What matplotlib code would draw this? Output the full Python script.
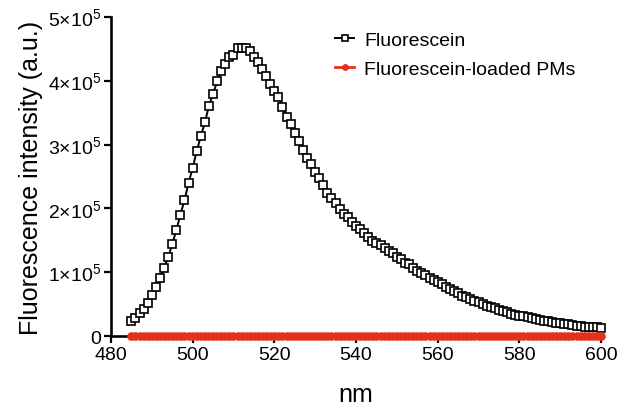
import numpy as np
import matplotlib.pyplot as plt
from matplotlib.ticker import FuncFormatter

plt.rcParams['font.family'] = ['Liberation Sans', 'DejaVu Sans']
plt.rcParams['mathtext.fontset'] = 'custom'
plt.rcParams['mathtext.rm'] = 'Liberation Sans'

# wavelength, nm (1 nm step)
wavelength = np.arange(485, 601)

# free fluorescein, values in units of 1e5 a.u.
fluorescein = [
    0.239, 0.276, 0.359, 0.422, 0.52, 0.64, 0.776, 0.906, 1.073, 1.234,
    1.438, 1.661, 1.901, 2.13, 2.40, 2.635, 2.90, 3.13, 3.35, 3.61,
    3.80, 3.99, 4.16, 4.26, 4.37, 4.41, 4.52, 4.52, 4.51, 4.46,
    4.38, 4.30, 4.18, 4.08, 3.95, 3.84, 3.75, 3.59, 3.43, 3.32,
    3.18, 3.05, 2.922, 2.79, 2.69, 2.57, 2.47, 2.36, 2.245, 2.167,
    2.08, 1.984, 1.91, 1.86, 1.79, 1.724, 1.67, 1.62, 1.557, 1.49,
    1.453, 1.42, 1.375, 1.333, 1.297, 1.245, 1.203, 1.151, 1.125, 1.073,
    1.02, 0.995, 0.958, 0.917, 0.875, 0.839, 0.81, 0.776, 0.734, 0.708,
    0.667, 0.63, 0.604, 0.578, 0.552, 0.526, 0.50, 0.474, 0.448, 0.432,
    0.41, 0.395, 0.37, 0.344, 0.328, 0.317, 0.307, 0.292, 0.276, 0.266,
    0.255, 0.24, 0.229, 0.214, 0.203, 0.198, 0.188, 0.182, 0.172, 0.161,
    0.151, 0.146, 0.141, 0.135, 0.135, 0.13,
]
fluorescein = np.array(fluorescein) * 1e5

# fluorescein-loaded PMs (no signal)
loaded_pms = np.zeros(len(wavelength))

fig = plt.figure(figsize=(6.36, 4.10), dpi=100)
ax = fig.add_axes([0.1745, 0.178, 0.7705, 0.778])

ax.plot(wavelength, fluorescein, color='black', lw=1.4, marker='s', ms=5.2,
        mfc='white', mec='black', mew=1.2, clip_on=False, zorder=3,
        label='Fluorescein')
ax.plot(wavelength, loaded_pms, color='#e3321b', lw=2, marker='o', ms=5.2,
        mec='#e3321b', mfc='#e3321b', clip_on=False, zorder=4,
        label='Fluorescein-loaded PMs')

ax.set_xlim(480, 600)
ax.set_ylim(0, 5e5)
ax.set_xticks(np.arange(480, 601, 20))
ax.set_yticks(np.arange(0, 5.01e5, 1e5))

def sci(v, pos):
    if v == 0:
        return '0'
    return r'$%d{\times}10^{5}$' % round(v / 1e5)

ax.yaxis.set_major_formatter(FuncFormatter(sci))

for s in ['top', 'right']:
    ax.spines[s].set_visible(False)
for s in ['left', 'bottom']:
    ax.spines[s].set_linewidth(1.9)

ax.tick_params(axis='both', direction='out', length=5, width=1.6,
               labelsize=14, pad=2)

ax.set_xlabel('nm', fontsize=18, labelpad=14)
ax.set_ylabel('Fluorescence intensity (a.u.)', fontsize=18, labelpad=4)

ax.legend(loc='upper left', bbox_to_anchor=(335 / 636, 1 - 32 / 410),
          bbox_transform=fig.transFigure, frameon=False, fontsize=14,
          handlelength=1.0, handletextpad=0.5, labelspacing=0.6,
          borderpad=0, borderaxespad=0, markerscale=0.75)

plt.savefig('out.png', dpi=100)
